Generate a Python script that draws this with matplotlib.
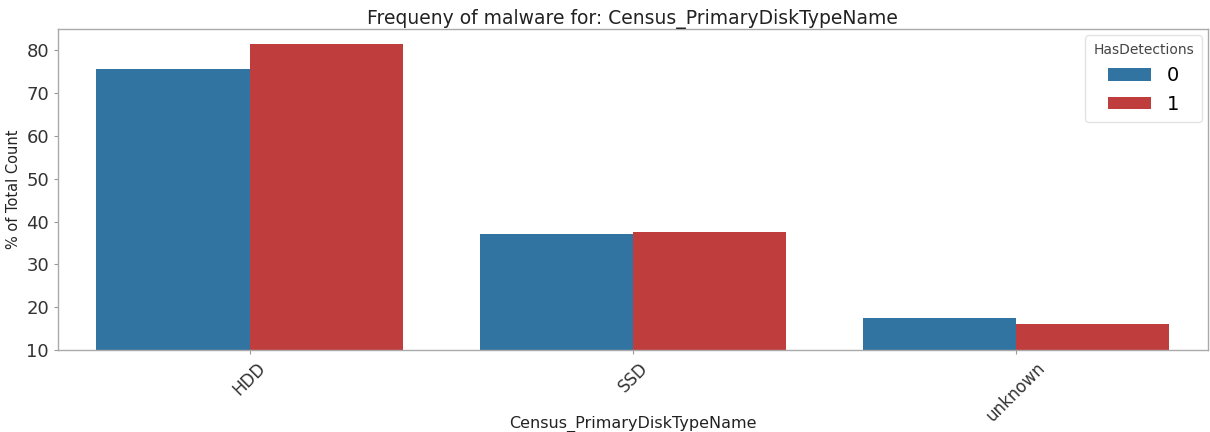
import numpy as np
import matplotlib
matplotlib.use("Agg")
import matplotlib.pyplot as plt

# % of total count per disk type, split by HasDetections
categories = ["HDD", "SSD", "unknown"]
pct_0 = [75.7, 37.2, 17.4]
pct_1 = [81.4, 37.5, 16.0]
hue_labels = ["0", "1"]

blue = "#3274a1"
red = "#c03d3e"

fig = plt.figure(figsize=(12.1, 4.32), dpi=100)
ax = fig.add_axes([0.048, 0.19, 0.95, 0.743])

x = np.arange(len(categories))
w = 0.4
ax.bar(x - w / 2, pct_0, width=w, color=blue, label=hue_labels[0])
ax.bar(x + w / 2, pct_1, width=w, color=red, label=hue_labels[1])

ax.set_xlim(-0.5, len(categories) - 0.5)
ax.set_ylim(10, 85)
ax.set_yticks([10, 20, 30, 40, 50, 60, 70, 80])
ax.set_xticks(x)
ax.set_xticklabels(categories, rotation=45, fontsize=12)
ax.tick_params(axis="y", labelsize=13)
ax.tick_params(colors="#999999", length=3)
for lab in ax.get_yticklabels() + ax.get_xticklabels():
    lab.set_color("#333333")

for s in ax.spines.values():
    s.set_color("#aaaaaa")
    s.set_linewidth(1.0)

ax.set_title("Frequeny of malware for: Census_PrimaryDiskTypeName", fontsize=13.5, color="#222222", pad=2)
ax.set_xlabel("Census_PrimaryDiskTypeName", fontsize=11.5, color="#222222")
ax.xaxis.set_label_coords(0.5, -0.205)
ax.set_ylabel("% of Total Count", fontsize=10.5, color="#222222")

leg = ax.legend(title="HasDetections", fontsize=14, title_fontsize=10, loc="upper right",
                frameon=True, handlelength=2.2, handleheight=0.6, borderaxespad=0.3)
leg.get_frame().set_edgecolor("#dddddd")
leg.get_title().set_color("#444444")

fig.savefig("out.png", dpi=100)
